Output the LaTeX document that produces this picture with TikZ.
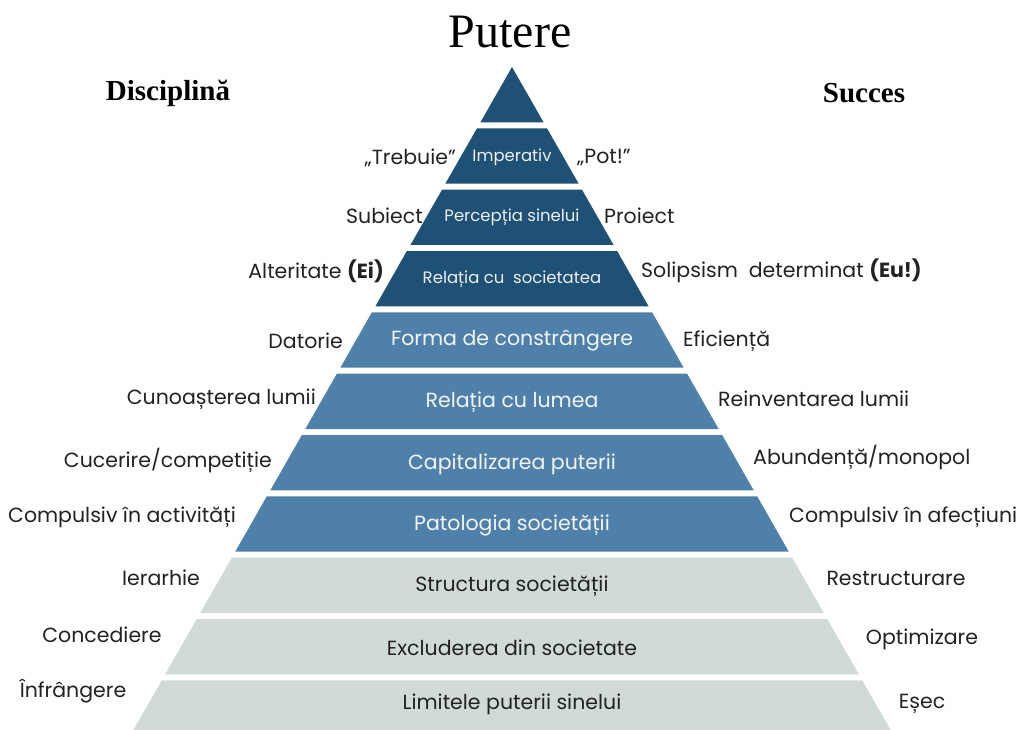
\documentclass[tikz,border=0pt]{standalone}
\usepackage{fontspec}
\setmainfont{Poppins}
\newfontfamily\headfont{Liberation Serif}

\definecolor{darkblue}{HTML}{1F5075}
\definecolor{midblue}{HTML}{4F80AA}
\definecolor{lightgrey}{HTML}{D0DAD9}
\definecolor{inkgrey}{HTML}{222222}

\tikzset{
  side/.style={font=\fontsize{20.5}{22}\selectfont, text=inkgrey, inner sep=0pt},
  topin/.style={font=\fontsize{16.5}{18}\selectfont, text=white!92!darkblue, inner sep=0pt},
  midin/.style={font=\fontsize{20.5}{22}\selectfont, text=white!92!midblue, inner sep=0pt},
  lowin/.style={font=\fontsize{20.5}{22}\selectfont, text=inkgrey, inner sep=0pt},
}

\begin{document}
\begin{tikzpicture}[x=1pt, y=-1pt]
    \useasboundingbox (0,0) rectangle (1020,730);

    % layers, dark
    \fill[darkblue](512,67)--(543.6,122.3)--(480.4,122.3)--cycle;
    \fill[darkblue](477,128.3)--(547,128.3)--(578.6,183.6)--(445.4,183.6)--cycle;
    \fill[darkblue](442,189.7)--(582,189.7)--(613.6,245)--(410.4,245)--cycle;
    \fill[darkblue](406.9,251)--(617.1,251)--(648.6,306.3)--(375.4,306.3)--cycle;

    % layers, middle
    \fill[midblue](371.9,312.3)--(652.1,312.3)--(683.6,367.6)--(340.4,367.6)--cycle;
    \fill[midblue](336.9,373.7)--(687.1,373.7)--(718.7,429)--(305.3,429)--cycle;
    \fill[midblue](301.9,435)--(722.1,435)--(753.7,490.3)--(270.3,490.3)--cycle;
    \fill[midblue](266.8,496.3)--(757.2,496.3)--(788.7,551.6)--(235.3,551.6)--cycle;

    % layers, light
    \fill[lightgrey](231.9,557.6)--(792.1,557.6)--(823.7,612.9)--(200.3,612.9)--cycle;
    \fill[lightgrey](196.8,619)--(827.2,619)--(858.8,674.3)--(165.2,674.3)--cycle;
    \fill[lightgrey](161.8,680.3)--(862.2,680.3)--(890.6,730)--(133.4,730)--cycle;

    % titles
    \node[font=\headfont\fontsize{48}{50}\selectfont] (putere) at (510,32) {Putere};
    \node[font=\headfont\bfseries\fontsize{29}{31}\selectfont] (disciplina) at (168,93) {Disciplină};
    \node[font=\headfont\bfseries\fontsize{29}{31}\selectfont] (succes) at (864,93) {Succes};

    % inside the pyramid
    \node[topin] (imperativ) at (512,157) {Imperativ};
    \node[topin] (perceptia) at (512,217) {Percepția sinelui};
    \node[topin] (relsoc) at (512,279) {Relația cu\ \ societatea};
    \node[midin] (forma) at (512,341) {Forma de constrângere};
    \node[midin] (rellume) at (512,402) {Relația cu lumea};
    \node[midin] (capital) at (512,464) {Capitalizarea puterii};
    \node[midin] (patologia) at (512,525) {Patologia societății};
    \node[lowin] (structura) at (512,586) {Structura societății};
    \node[lowin] (excluderea) at (512,648) {Excluderea din societate};
    \node[lowin] (limitele) at (512,704) {Limitele puterii sinelui};

    % left side
    \node[side, anchor=east] (trebuie) at (456,158) {„Trebuie”};
    \node[side, anchor=east] (subiect) at (423,216) {Subiect};
    \node[side, anchor=east] (alteritate) at (384,271) {Alteritate \textbf{(Ei)}};
    \node[side, anchor=east] (datorie) at (343,341) {Datorie};
    \node[side, anchor=east] (cunoasterea) at (316,399) {Cunoașterea lumii};
    \node[side, anchor=east] (cucerire) at (272,461) {Cucerire/competiție};
    \node[side, anchor=east] (compact) at (236,517) {Compulsiv în activități};
    \node[side] (ierarhie) at (161,578) {Ierarhie};
    \node[side] (concediere) at (102,635) {Concediere};
    \node[side] (infrangere) at (73,691) {Înfrângere};

    % right side
    \node[side, anchor=west] (pot) at (577,158) {„Pot!”};
    \node[side, anchor=west] (proiect) at (604,216) {Proiect};
    \node[side, anchor=west] (solipsism) at (641,271) {Solipsism\ \ determinat \textbf{(Eu!)}};
    \node[side, anchor=west] (eficienta) at (683,341) {Eficiență};
    \node[side, anchor=west] (reinventarea) at (718,399) {Reinventarea lumii};
    \node[side, anchor=west] (abundenta) at (753,458) {Abundență/monopol};
    \node[side, anchor=west] (compaf) at (789,517) {Compulsiv în afecțiuni};
    \node[side] (restructurare) at (896,578) {Restructurare};
    \node[side] (optimizare) at (922,639) {Optimizare};
    \node[side] (esec) at (922,704) {Eșec};
\end{tikzpicture}
\end{document}
